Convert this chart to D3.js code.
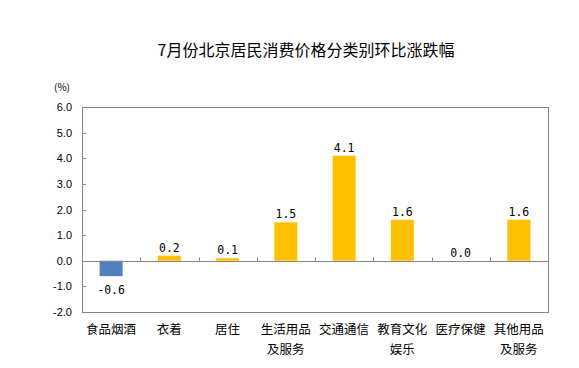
<!DOCTYPE html>
<html><head><meta charset="utf-8">
<script src="https://cdn.jsdelivr.net/npm/d3@7"></script>
<style>body{margin:0;background:#fff}svg{display:block}</style>
</head><body>
<script>
const categories = ["食品烟酒","衣着","居住","生活用品\n及服务","交通通信","教育文化\n娱乐","医疗保健","其他用品\n及服务"];
const values = [-0.6, 0.2, 0.1, 1.5, 4.1, 1.6, 0.0, 1.6];
const yTicks = [-2,-1,0,1,2,3,4,5,6];
const title = "7月份北京居民消费价格分类别环比涨跌幅";
const unit = "(%)";

const W = 579, H = 368;
const m = {left:82, right:31, top:107, bottom:56};
const svg = d3.select("body").append("svg").attr("width",W).attr("height",H);
const x = d3.scaleBand().domain(categories).range([m.left, W-m.right]).paddingInner(0).paddingOuter(0);
const y = d3.scaleLinear().domain([-2,6]).range([H-m.bottom, m.top]);
const cjk = "'Noto Sans CJK SC', sans-serif";

svg.append("text").attr("x",306).attr("y",56).attr("text-anchor","middle")
  .attr("font-family",cjk).attr("font-size",16).attr("fill","#000").text(title);
svg.append("text").attr("x",54).attr("y",91).attr("font-family",cjk).attr("font-size",10).text(unit);

// plot border
svg.append("rect").attr("x",m.left+0.5).attr("y",y(6)+0.5).attr("width",W-m.right-m.left).attr("height",y(-2)-y(6))
  .attr("fill","none").attr("stroke","#868686");

// y ticks (inward)
svg.selectAll("line.ytk").data(yTicks.slice(1,-1)).join("line").attr("class","ytk")
  .attr("x1",m.left).attr("x2",m.left+4)
  .attr("y1",d=>Math.round(y(d))+0.5).attr("y2",d=>Math.round(y(d))+0.5).attr("stroke","#868686");

// y labels
svg.selectAll("text.yl").data(yTicks).join("text").attr("class","yl")
  .attr("x",m.left-10).attr("y",d=>y(d)+4).attr("text-anchor","end")
  .attr("font-family","'Liberation Sans', Arial, sans-serif").attr("font-size",11).attr("fill","#000")
  .text(d=>d.toFixed(1));

const bw = 23;
svg.selectAll("rect.bar").data(values).join("rect").attr("class","bar")
  .attr("x",(d,i)=>x(categories[i])+x.bandwidth()/2-bw/2)
  .attr("y",d=>y(Math.max(0,d))).attr("width",bw)
  .attr("height",d=>Math.abs(y(d)-y(0)))
  .attr("fill",d=>d<0?"#4F81BD":"#FFC000");

// zero line and ticks
const y0 = Math.round(y(0))+0.5;
svg.append("line").attr("x1",m.left).attr("x2",W-m.right).attr("y1",y0).attr("y2",y0).attr("stroke","#868686");
svg.selectAll("line.tk").data(categories.slice(1)).join("line").attr("class","tk")
  .attr("x1",d=>Math.round(x(d))+0.5).attr("x2",d=>Math.round(x(d))+0.5)
  .attr("y1",y0).attr("y2",y0-4).attr("stroke","#868686");

// value labels
svg.selectAll("text.vl").data(values).join("text").attr("class","vl")
  .attr("x",(d,i)=>x(categories[i])+x.bandwidth()/2)
  .attr("y",d=>d<0?y(d)+18:y(d)-4).attr("text-anchor","middle")
  .attr("font-family","'DejaVu Sans Mono', monospace").attr("font-size",11.5).attr("fill","#000")
  .text(d=>d.toFixed(1));

// category labels
categories.forEach(c=>{
  const lines = c.split("\n");
  const t = svg.append("text").attr("text-anchor","middle").attr("font-family",cjk).attr("font-size",12.5).attr("fill","#000");
  lines.forEach((l,i)=>t.append("tspan").attr("x",x(c)+x.bandwidth()/2).attr("y",334+i*20).text(l));
});
</script>
</body></html>
